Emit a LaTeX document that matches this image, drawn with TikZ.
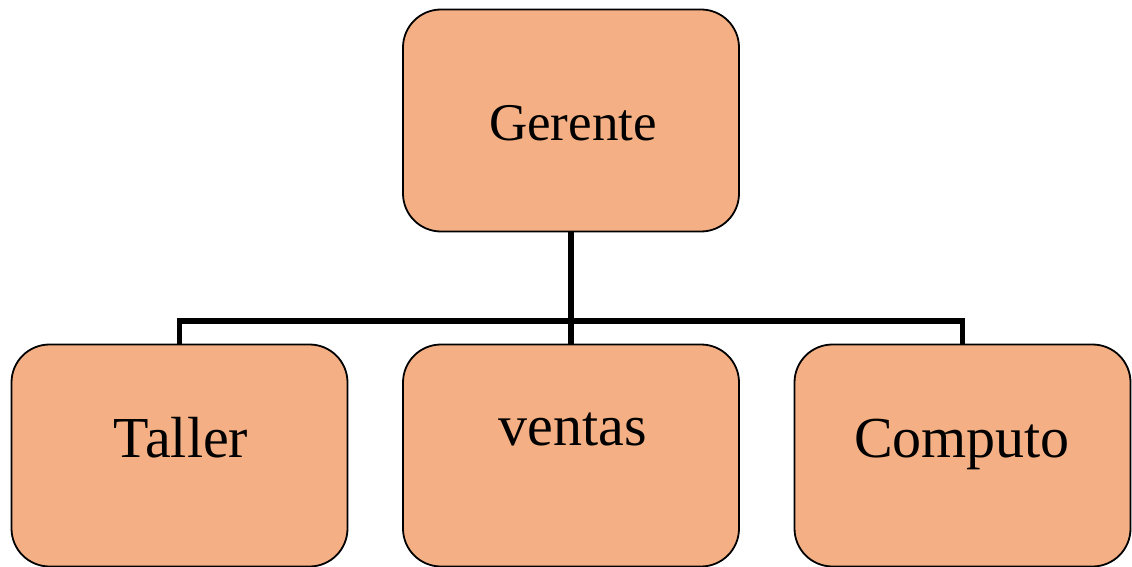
\documentclass[tikz,border=0pt]{standalone}
\usepackage{fontspec}
\setmainfont{Liberation Serif}
\definecolor{boxfill}{RGB}{244,176,132}
\begin{document}
\begin{tikzpicture}[x=1pt,y=-1pt,
  orgbox/.style={draw=black,line width=1.8pt,fill=boxfill,rounded corners=38pt,
    minimum width=336pt,minimum height=222pt,inner sep=0pt},
  lbl/.style={anchor=base,inner sep=0pt},
  conn/.style={line width=5.5pt,line cap=butt}]
\useasboundingbox (0,0) rectangle (1132,567);
\node[orgbox] (g) at (571,120.5) {};
\node[orgbox] (t) at (179.5,455.5) {};
\node[orgbox] (v) at (571,455.5) {};
\node[orgbox] (c) at (962.5,455.5) {};
\node[lbl,font=\fontsize{53}{60}\selectfont] (gl) at (573,140) {Gerente};
\node[lbl,font=\fontsize{58}{66}\selectfont] (tl) at (181,457) {Taller};
\node[lbl,font=\fontsize{58}{66}\selectfont] (vl) at (573,445) {ventas};
\node[lbl,font=\fontsize{58}{66}\selectfont] (cl) at (962,457) {Computo};
\coordinate (bus) at (571,321);
\draw[conn] (g.south) -- (v.north);
\draw[conn] (t.north) -- (t.north |- bus) -- (c.north |- bus) -- (c.north);
\end{tikzpicture}
\end{document}
